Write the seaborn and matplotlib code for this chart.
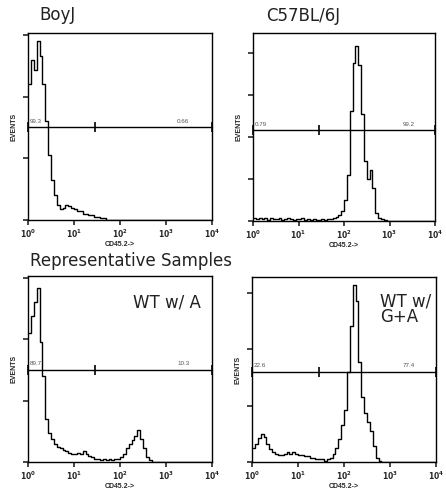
import numpy as np
import pandas as pd
import seaborn as sns
import matplotlib.pyplot as plt

# channel centres: 16 channels per decade, in log10 units (10^0 .. 10^4)
decade_pos = (np.arange(64) + 0.5) / 16

# events per channel
boyj = [88, 104, 97, 116, 106, 88, 64, 42, 26, 16, 10, 7, 8, 10, 9, 8,
        7, 6, 6, 4, 4, 3, 3, 2, 2, 1, 1, 0, 0, 0, 0, 0,
        0, 0, 0, 0, 0, 0, 0, 0, 0, 0, 0, 0, 0, 0, 0, 0,
        0, 0, 0, 0, 0, 0, 0, 0, 0, 0, 0, 0, 0, 0, 0, 0]
c57 = [3, 2, 4, 2, 3, 1, 3, 2, 2, 3, 1, 2, 3, 2, 1, 2,
       2, 3, 1, 2, 1, 2, 1, 1, 2, 1, 2, 2, 4, 5, 7, 12,
       25, 55, 131, 188, 209, 186, 128, 72, 50, 61, 39, 10, 4, 2, 1, 0,
       0, 0, 0, 0, 0, 0, 0, 0, 0, 0, 0, 0, 0, 0, 0, 0]
wt_a = [84, 95, 104, 113, 78, 56, 28, 19, 15, 12, 10, 9, 8, 7, 6, 5,
        5, 6, 5, 7, 5, 4, 3, 2, 2, 1, 2, 1, 2, 1, 2, 2,
        3, 5, 9, 12, 14, 17, 21, 15, 9, 3, 1, 0, 0, 0, 0, 0,
        0, 0, 0, 0, 0, 0, 0, 0, 0, 0, 0, 0, 0, 0, 0, 0]
wt_ga = [10, 13, 17, 20, 18, 13, 9, 7, 6, 5, 5, 6, 7, 6, 7, 6,
         5, 5, 4, 4, 3, 3, 2, 2, 2, 1, 2, 3, 6, 10, 16, 26,
         37, 64, 96, 125, 114, 71, 46, 35, 28, 22, 11, 3, 1, 0, 0, 0,
         0, 0, 0, 0, 0, 0, 0, 0, 0, 0, 0, 0, 0, 0, 0, 0]

# gate markers: M1 | M2 split and the percentages
gate_edges = [1, 10 ** 1.45, 10 ** 4]
gate_level = [60, 108, 60, 64]
left_pct = ["99.3", "0.79", "89.7", "22.6"]
right_pct = ["0.66", "99.2", "10.3", "77.4"]
right_pos = [10 ** 3.24, 10 ** 3.3, 10 ** 3.24, 10 ** 3.28]

y_max = [121.2, 224, 121, 131]
y_ticks = [[0, 40, 80, 120], [0, 50, 100, 150, 200], [0, 40, 80, 120], [0, 40, 80, 120]]
x_ticks = [1, 10, 100, 1000, 10000]
x_tick_labels = [r"$\mathbf{10^0}$", r"$\mathbf{10^1}$", r"$\mathbf{10^2}$",
                 r"$\mathbf{10^3}$", r"$\mathbf{10^4}$"]

df = pd.DataFrame({
    "pos": np.tile(10 ** decade_pos, 4),
    "events": boyj + c57 + wt_a + wt_ga,
    "sample": np.repeat(["BoyJ", "C57BL/6J", "WT w/ A", "WT w/ G+A"], 64),
})
samples = ["BoyJ", "C57BL/6J", "WT w/ A", "WT w/ G+A"]

sns.set_style("ticks")
plt.rcParams["font.family"] = ["Liberation Sans", "DejaVu Sans"]
big = dict(family="DejaVu Sans", fontsize=12, color="#222222")

W, H = 446, 490
fig = plt.figure(figsize=(W / 100, H / 100), dpi=100)

# axes boxes in pixels: left, top, width, height
boxes = [[28, 33, 184, 187], [253, 33, 182, 188], [28, 276, 184, 186], [252, 277, 184, 185]]

for i, name in enumerate(samples):
    l, t, w, h = boxes[i]
    ax = fig.add_axes([l / W, 1 - (t + h) / H, w / W, h / H])
    ax.set_xscale("log")
    sub = df[df["sample"] == name]
    sns.lineplot(data=sub, x="pos", y="events", drawstyle="steps-mid",
                 color="black", lw=1.0, ax=ax)
    ax.set_xlim(1, 1e4)
    ax.set_ylim(0, y_max[i])
    ax.set_yticks(y_ticks[i])
    ax.set_yticklabels([])
    ax.set_xticks(x_ticks)
    ax.set_xticklabels(x_tick_labels, fontsize=5.5)
    ax.tick_params(axis="both", which="major", direction="out", length=3.5, width=1.2, pad=2)
    ax.tick_params(axis="x", which="minor", direction="out", length=2, width=0.8)
    ax.tick_params(axis="y", which="minor", left=False)
    for sp in ax.spines.values():
        sp.set_visible(True)
        sp.set_linewidth(1.0)
        sp.set_color("black")
    ax.set_xlabel("CD45.2->", fontsize=5, fontweight="bold", labelpad=1)
    ax.set_ylabel("EVENTS", fontsize=5, fontweight="bold", labelpad=2)

    lvl = gate_level[i]
    ax.plot(gate_edges, [lvl] * 3, color="black", lw=1.0, marker="|",
            ms=7, mew=1.2, clip_on=False)
    ax.annotate(left_pct[i], (1, lvl), xytext=(1.5, 2.5), textcoords="offset points",
                fontsize=4.5, color="#555555", va="bottom")
    ax.annotate(right_pct[i], (right_pos[i], lvl), xytext=(0, 2.5),
                textcoords="offset points", fontsize=4.5, color="#555555", va="bottom")

    if name == "WT w/ A":
        ax.text(0.57, 0.828, "WT w/ A", transform=ax.transAxes, va="baseline", **big)
    if name == "WT w/ G+A":
        ax.text(0.696, 0.915, "WT w/\nG+A", transform=ax.transAxes, va="top",
                linespacing=0.8, **big)

fig.text(39 / W, 1 - 20 / H, "BoyJ", va="baseline", **big)
fig.text(266 / W, 1 - 21 / H, "C57BL/6J", va="baseline", **big)
fig.text(30 / W, 1 - 265.5 / H, "Representative Samples", va="baseline", **big)

fig.savefig("out.png", dpi=100)
